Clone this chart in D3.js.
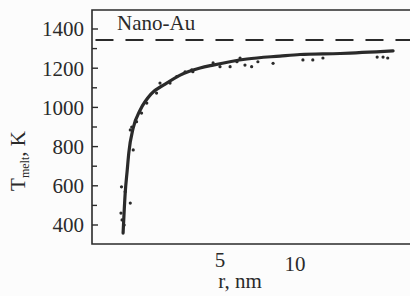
<!DOCTYPE html>
<html>
<head>
<meta charset="utf-8">
<script src="https://cdn.jsdelivr.net/npm/d3@7"></script>
<style>
  body { margin: 0; background: #fcfcfc; }
  svg { display: block; }
</style>
</head>
<body>
<div id="chart"></div>
<script>
// fitted curve, r in nm, T in K
var curveR = [2.04, 2.08, 2.12, 2.15, 2.24, 2.39, 2.64, 3.01, 3.46, 4.16, 4.69, 6.42, 8.71, 10.48, 15.2, 24.8];
var curveT = [359, 563, 681, 767, 895, 987, 1068, 1119, 1165, 1201, 1216, 1247, 1262, 1270, 1275, 1288];

// measured points
var dotR = [2.00, 2.01, 2.02, 2.06, 2.08, 2.18, 2.24, 2.18, 2.21, 2.31, 2.42, 2.54, 2.78, 2.87, 3.15, 3.35, 3.62, 3.85, 3.89,
            4.69, 5.0, 5.49, 5.85, 6.02, 6.30, 6.70, 7.1, 8.17, 10.77, 11.8, 12.96, 21.4, 22.6, 23.6];
var dotT = [461, 595, 426, 400, 570, 512, 783, 885, 900, 927, 971, 1022, 1073, 1124, 1124, 1157, 1181, 1191, 1182,
            1227, 1208, 1208, 1233, 1252, 1216, 1208, 1233, 1225, 1242, 1242, 1252, 1257, 1257, 1252];

var bulkT = 1344;
var yTicks = [400, 600, 800, 1000, 1200, 1400];
var yMinor = [500, 700, 900, 1100, 1300];
var xTicks = [5, 10];

(function(){
    var W = 410, H = 296;
    var pLeft = 92, pTop = 10, pBottom = 244, pRight = 410;
    var ink = "#2a2a2a";
    var fs = "21px";
    var serif = "'Liberation Serif'";

    var svg = d3.select("#chart").append("svg")
        .attr("width", W)
        .attr("height", H);

    var x = d3.scaleLog().domain([1.53, 29]).range([pLeft, pRight]);
    var y = d3.scaleLinear().domain([300, 1500]).range([244.6, 9.4]);

    // frame (open on the right, picture is cut there)
    svg.append("path")
        .attr("d", "M" + (pRight + 5) + "," + pTop + "H" + pLeft + "V" + pBottom + "H" + (pRight + 5))
        .attr("fill", "none")
        .attr("stroke", ink)
        .attr("stroke-width", 1.6);

    // y ticks, inward
    var yAxis = svg.append("g").attr("transform", "translate(" + pLeft + ",0)");
    yAxis.selectAll("line.major").data(yTicks).enter().append("line")
        .attr("class", "major")
        .attr("x1", 0).attr("x2", 6)
        .attr("y1", function(d){ return y(d); })
        .attr("y2", function(d){ return y(d); })
        .attr("stroke", ink).attr("stroke-width", 1.4);
    yAxis.selectAll("line.minor").data(yMinor).enter().append("line")
        .attr("class", "minor")
        .attr("x1", 0).attr("x2", 5)
        .attr("y1", function(d){ return y(d); })
        .attr("y2", function(d){ return y(d); })
        .attr("stroke", ink).attr("stroke-width", 1.4);
    yAxis.selectAll("text").data(yTicks).enter().append("text")
        .attr("x", -8)
        .attr("y", function(d){ return y(d); })
        .attr("dy", "0.35em")
        .attr("text-anchor", "end")
        .style("font-family", serif)
        .style("font-size", fs)
        .attr("fill", ink)
        .text(function(d){ return d; });

    // x tick labels
    svg.selectAll("text.xtick").data(xTicks).enter().append("text")
        .attr("class", "xtick")
        .attr("x", function(d){ return x(d); })
        .attr("y", function(d, i){ return 267 + i * 4; })
        .attr("text-anchor", "middle")
        .style("font-family", serif)
        .style("font-size", fs)
        .attr("fill", ink)
        .text(function(d){ return d; });

    // axis titles
    svg.append("text")
        .attr("x", 240).attr("y", 288)
        .attr("text-anchor", "middle")
        .style("font-family", serif)
        .style("font-size", fs)
        .attr("fill", ink)
        .text("r, nm");

    var yTitle = svg.append("text")
        .attr("transform", "translate(25,161) rotate(-90)")
        .attr("text-anchor", "middle")
        .style("font-family", serif)
        .style("font-size", fs)
        .attr("fill", ink);
    yTitle.append("tspan").text("T");
    yTitle.append("tspan").style("font-size", "12px").attr("dy", "4").text("melt");
    yTitle.append("tspan").attr("dy", "-4").text(", K");

    // bulk melting line
    svg.append("line")
        .attr("x1", x(1.58)).attr("x2", pRight)
        .attr("y1", y(bulkT)).attr("y2", y(bulkT))
        .attr("stroke", ink)
        .attr("stroke-width", 2)
        .attr("stroke-dasharray", "18,12");

    svg.append("text")
        .attr("x", 117).attr("y", 30)
        .style("font-family", serif)
        .style("font-size", fs)
        .attr("fill", ink)
        .text("Nano-Au");

    // points
    svg.selectAll("circle.pt").data(dotR).enter().append("circle")
        .attr("class", "pt")
        .attr("cx", function(d){ return x(d); })
        .attr("cy", function(d, i){ return y(dotT[i]); })
        .attr("r", 1.6)
        .attr("fill", ink);

    // fitted curve
    var line = d3.line()
        .x(function(d){ return x(d); })
        .y(function(d, i){ return y(curveT[i]); })
        .curve(d3.curveMonotoneX);

    svg.append("path")
        .datum(curveR)
        .attr("d", line)
        .attr("fill", "none")
        .attr("stroke", ink)
        .attr("stroke-width", 3.2)
        .attr("stroke-linecap", "round");
}());
</script>
</body>
</html>
